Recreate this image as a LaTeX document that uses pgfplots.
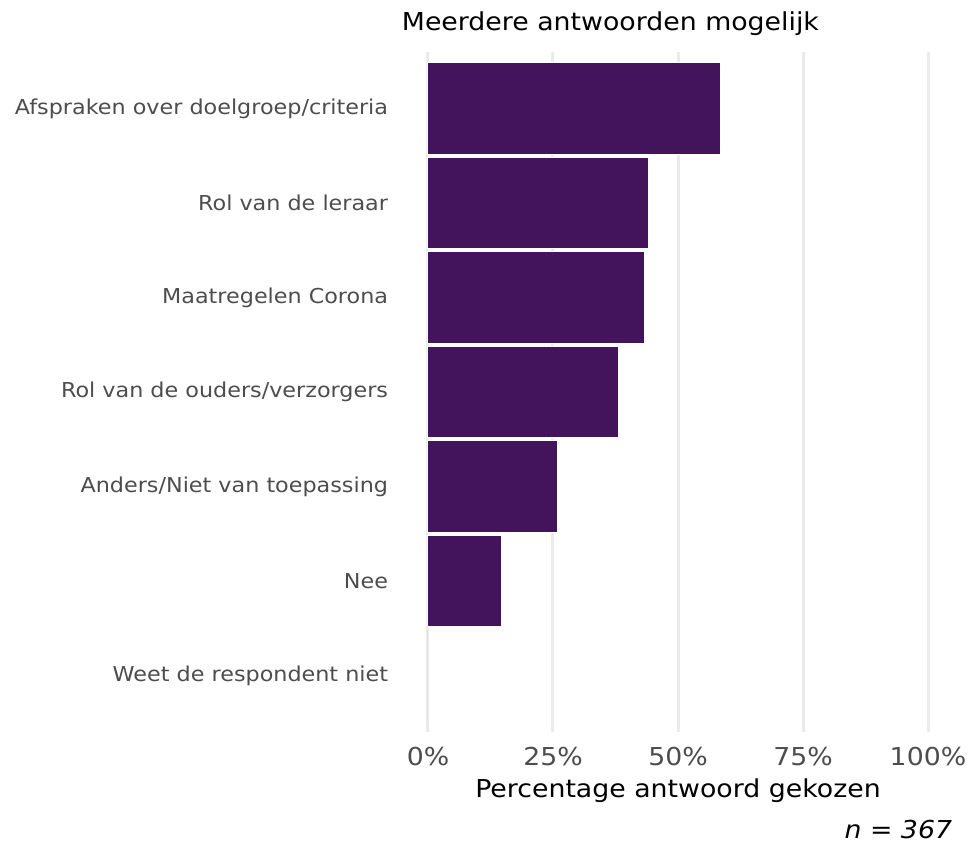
\documentclass[border=0pt]{standalone}
\usepackage{fontspec}
\setmainfont[FakeStretch=1.085]{DejaVu Sans}
\usepackage{pgfplots}
\pgfplotsset{compat=1.18}
\usepackage{pgfplotstable}
\definecolor{barpurple}{RGB}{67,20,91}
\definecolor{gridgray}{RGB}{235,235,235}
\definecolor{labelgray}{RGB}{77,77,77}

% percentage of respondents per answer (bottom to top)
\pgfplotstableread{
pos pct
1 0
2 14.7
3 25.9
4 38.1
5 43.3
6 44.1
7 58.4
}\antwoorden

\begin{document}
\begin{tikzpicture}
\useasboundingbox (-302.25pt,-84pt) rectangle (430.5pt,549pt);
\begin{axis}[
    at={(0,0)}, anchor=south west,
    scale only axis, width=412.5pt, height=510pt,
    xmin=-5, xmax=105, ymin=0.4, ymax=7.6,
    axis line style={draw=none},
    tick style={draw=none},
    xtick={0,25,50,75,100},
    xticklabels={0\%,25\%,50\%,75\%,100\%},
    ytick={1,...,7},
    yticklabels={Weet de respondent niet, Nee, Anders/Niet van toepassing,
        Rol van de ouders/verzorgers, Maatregelen Corona, Rol van de leraar,
        Afspraken over doelgroep/criteria},
    xmajorgrids, ymajorgrids=false,
    grid style={gridgray, line width=2.25pt},
    xticklabel style={font=\fontsize{18.5}{22}\selectfont, text=labelgray, inner sep=0pt, yshift=-11pt},
    yticklabel style={font=\fontsize{15.4}{18}\selectfont, text=labelgray, inner sep=0pt, xshift=-6.75pt},
    xlabel={Percentage antwoord gekozen},
    xlabel style={font=\fontsize{18.5}{22}\selectfont, at={(axis description cs:0.5,0)}, anchor=center, yshift=-44pt},
    xbar, bar width=0.97,
]
\addplot[fill=barpurple, draw=white, line width=0.75pt] table[x=pct,y=pos]{\antwoorden};
\end{axis}
\node[anchor=west, inner sep=0pt, font=\fontsize{18.5}{22}\selectfont] at (-1pt,531pt) {Meerdere antwoorden mogelijk};
\node[anchor=east, inner sep=0pt, font=\fontsize{18.5}{22}\selectfont\itshape] at (412pt,-73.5pt) {n = 367};
\end{tikzpicture}
\end{document}
